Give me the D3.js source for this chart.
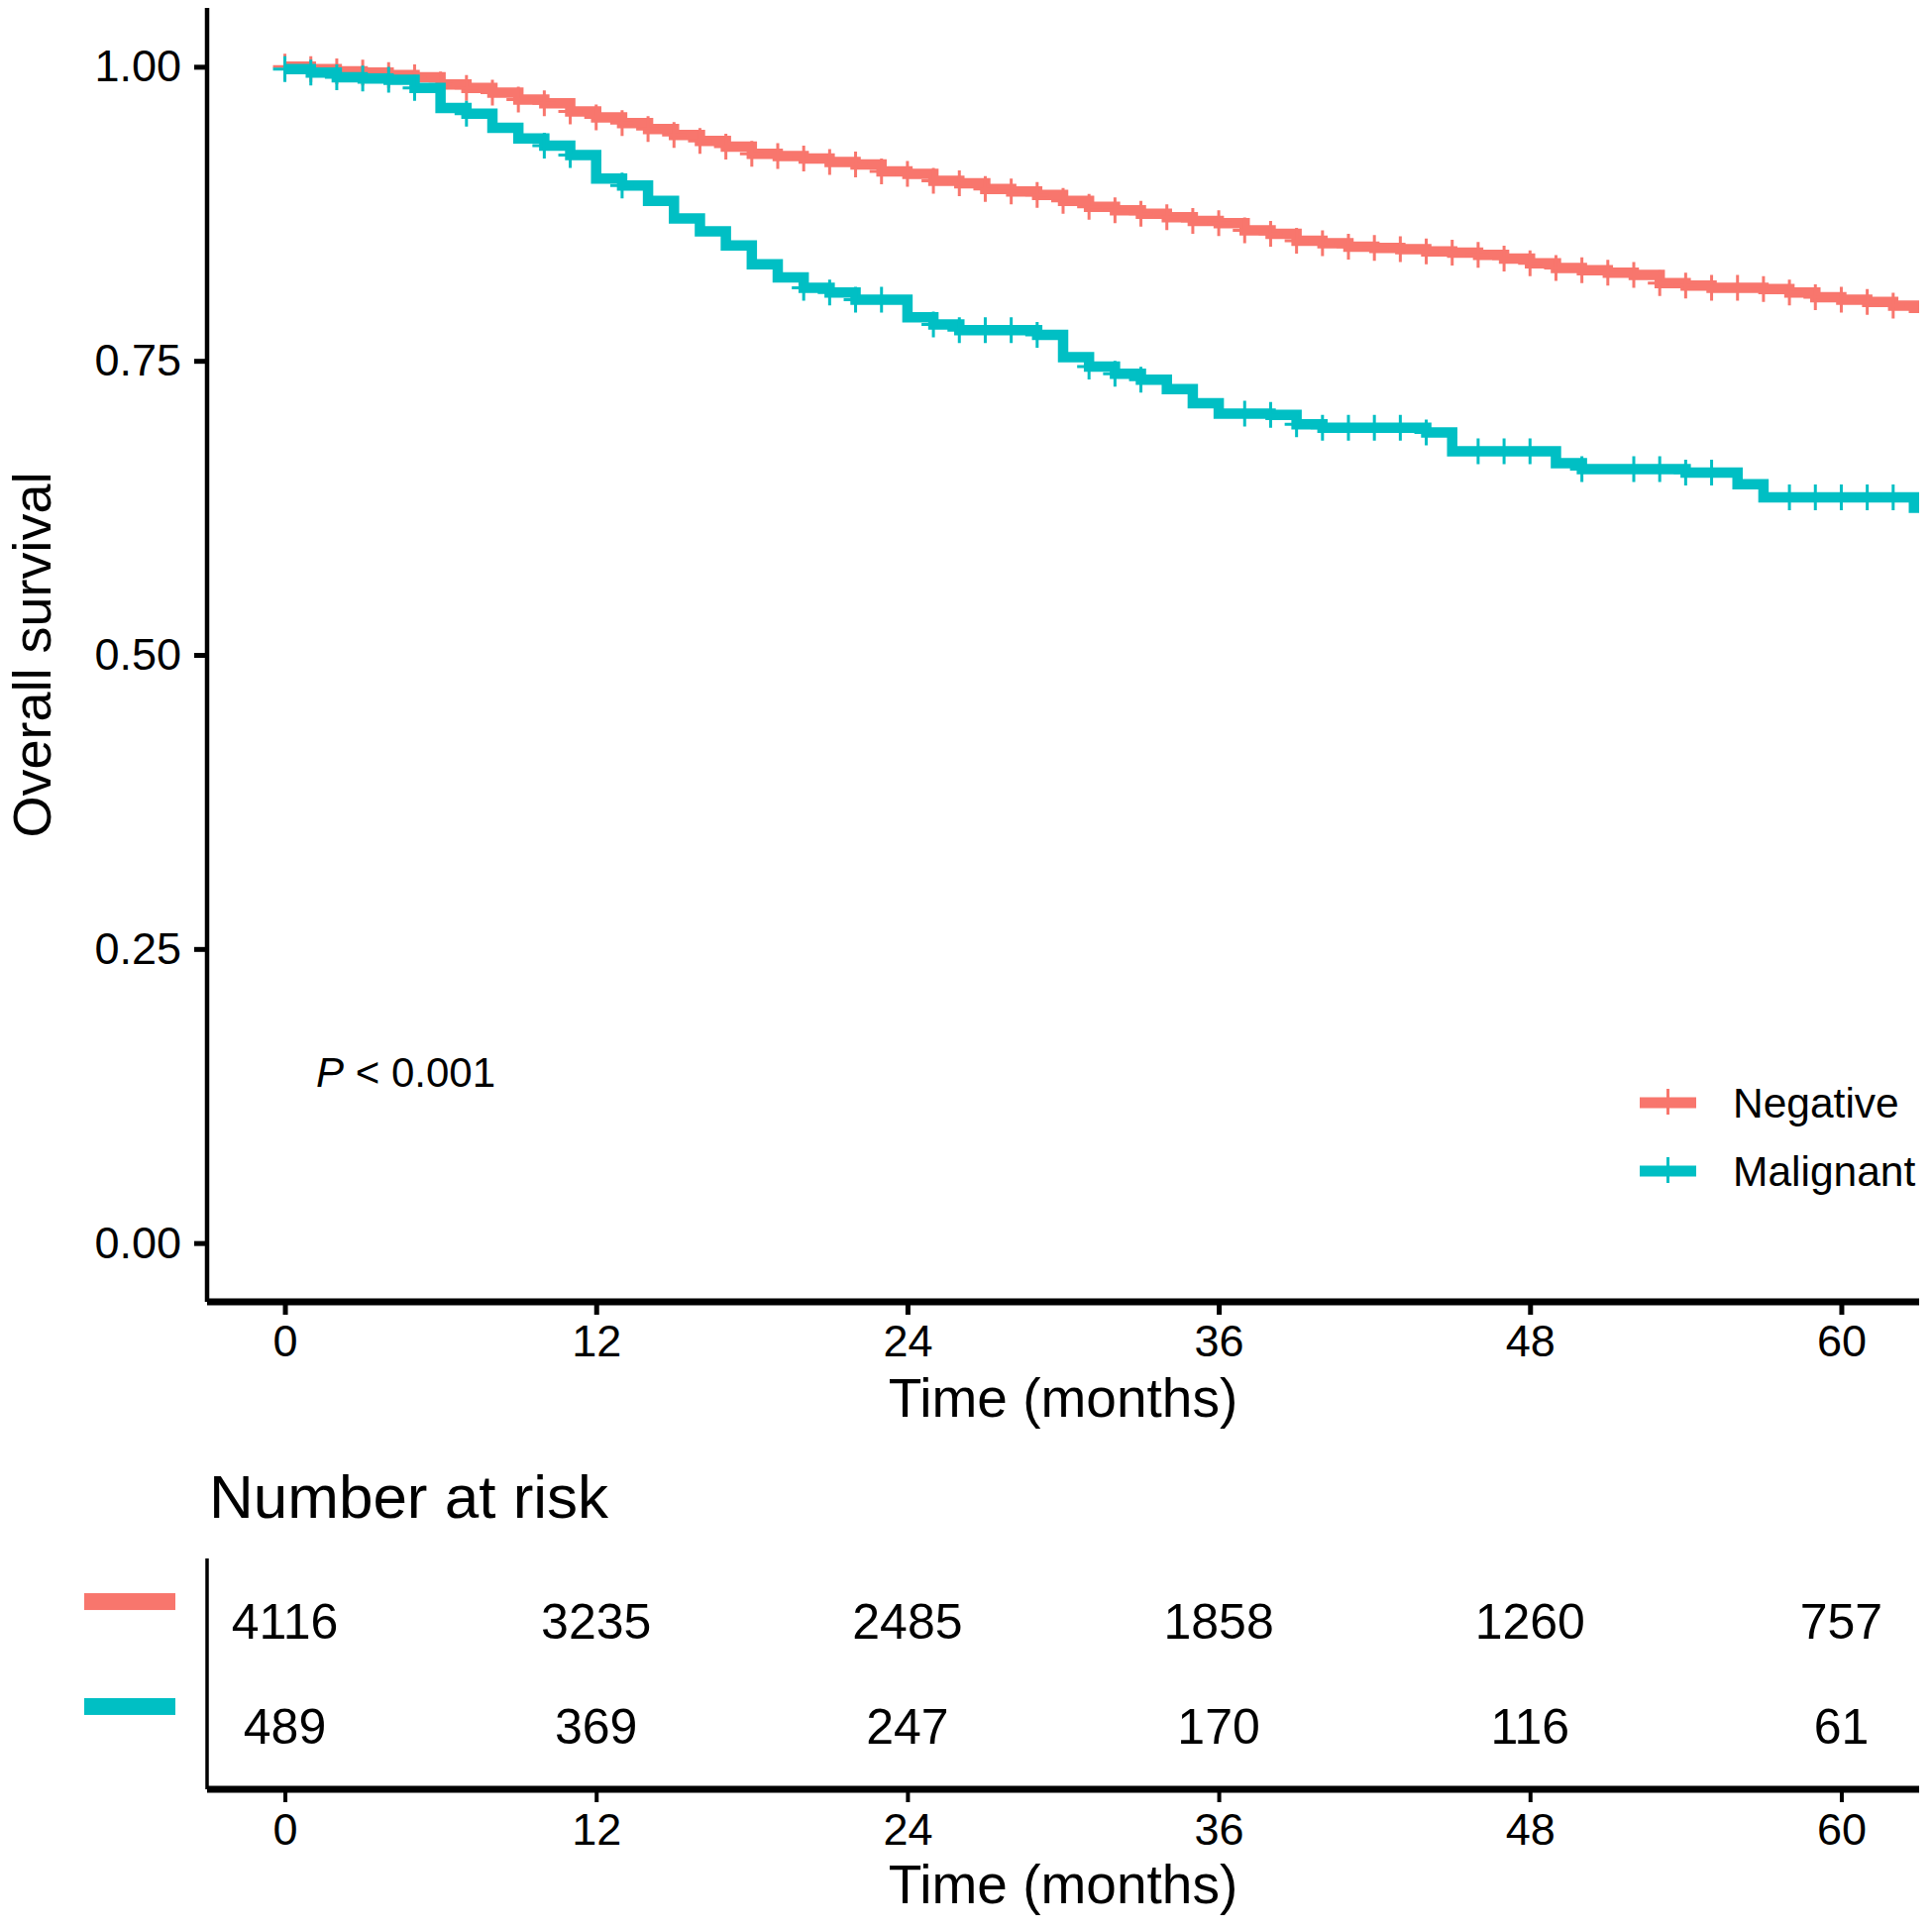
<!DOCTYPE html>
<html>
<head>
<meta charset="utf-8">
<script src="https://cdn.jsdelivr.net/npm/d3@7"></script>
<style>
  html, body { margin: 0; padding: 0; background: #fff; }
  svg { display: block; }
  text { font-family: "Liberation Sans", Arial, Helvetica, sans-serif; fill: #000; }
</style>
</head>
<body>
<svg id="chart" width="1950" height="1946"></svg>
<script>
// ---------------- data ----------------
const groups = ["Negative", "Malignant"];
const groupColors = ["#F8766D", "#00BFC4"];

const months = [0,1,2,3,4,5,6,7,8,9,10,11,12,13,14,15,16,17,18,19,20,21,22,23,24,25,26,27,28,29,30,31,
  32,33,34,35,36,37,38,39,40,41,42,43,44,45,46,47,48,49,50,51,52,53,54,55,56,57,58,59,60,61,62,62.8];

const survNegative = [1.000,0.998,0.996,0.995,0.993,0.991,0.985,0.982,0.978,0.972,0.969,0.962,0.957,0.952,0.947,0.942,
  0.937,0.932,0.926,0.924,0.922,0.919,0.917,0.911,0.909,0.903,0.901,0.896,0.894,0.891,0.886,0.881,
  0.878,0.875,0.872,0.869,0.867,0.861,0.858,0.852,0.850,0.847,0.846,0.845,0.843,0.842,0.840,0.837,
  0.833,0.829,0.827,0.825,0.823,0.816,0.814,0.812,0.812,0.811,0.808,0.804,0.802,0.800,0.797,0.795];

const survMalignant = [0.998,0.995,0.991,0.990,0.989,0.982,0.965,0.960,0.948,0.939,0.933,0.925,0.905,0.899,0.886,0.871,
  0.860,0.848,0.832,0.821,0.812,0.808,0.802,0.802,0.787,0.781,0.776,0.776,0.776,0.772,0.753,0.745,
  0.739,0.734,0.726,0.714,0.705,0.705,0.704,0.696,0.693,0.693,0.693,0.693,0.689,0.673,0.673,0.673,
  0.673,0.663,0.658,0.658,0.658,0.658,0.655,0.655,0.645,0.634,0.634,0.634,0.634,0.634,0.634,0.625];

const censorNegative = [0,1,2,3,4,5,6,7,8,9,10,11,12,13,14,15,16,17,18,19,20,21,22,23,24,25,26,27,28,29,30,31,
  32,33,34,35,36,37,38,39,40,41,42,43,44,45,46,47,48,49,50,51,52,53,54,55,56,57,58,59,60,61,62];
const censorMalignant = [0,1,2,3,4,5,7,10,11,13,20,21,22,23,25,26,27,28,29,31,32,33,37,38,39,40,41,42,43,44,
  46,47,48,50,52,53,54,55,58,59,60,61,62];

const xTicks = [0, 12, 24, 36, 48, 60];
const yTicks = [0, 0.25, 0.5, 0.75, 1.0];
const riskNegative = [4116, 3235, 2485, 1858, 1260, 757];
const riskMalignant = [489, 369, 247, 170, 116, 61];

const pText = "< 0.001";

// ---------------- layout ----------------
const svg = d3.select("#chart");
const plot = { left: 209, right: 1937, top: 8, bottom: 1314 };
const table = { top: 1573, bottom: 1806 };

const x = d3.scaleLinear().domain([-3, 63]).range([plot.left, plot.right]);
const y = d3.scaleLinear().domain([-0.05, 1.05]).range([plot.bottom, plot.top]);
const yRisk = d3.scalePoint().domain(groups).range([table.top, table.bottom]).padding(0.6);

svg.append("defs").append("clipPath").attr("id", "plotclip")
  .append("rect").attr("x", plot.left).attr("y", plot.top)
  .attr("width", plot.right - plot.left).attr("height", plot.bottom - plot.top);

// ---------------- curves ----------------
const series = [
  { name: groups[0], color: groupColors[0], surv: survNegative, censor: censorNegative },
  { name: groups[1], color: groupColors[1], surv: survMalignant, censor: censorMalignant }
];

const line = d3.line().curve(d3.curveStepAfter).x(d => x(d[0])).y(d => y(d[1]));
const gCurves = svg.append("g").attr("clip-path", "url(#plotclip)");

series.forEach(s => {
  const pts = months.map((m, i) => [m, s.surv[i]]);
  pts.push([x.domain()[1] + 1, s.surv[s.surv.length - 1]]);
  gCurves.append("path").datum(pts)
    .attr("d", line)
    .attr("fill", "none")
    .attr("stroke", s.color)
    .attr("stroke-width", 10.5)
    .attr("stroke-linejoin", "miter")
    .attr("stroke-linecap", "butt");
  const cpts = s.censor.map(m => [m, s.surv[months.indexOf(m)]]);
  gCurves.append("g").selectAll("path").data(cpts).join("path")
    .attr("d", d => {
      const cx = x(d[0]), cy = y(d[1]);
      return `M${cx - 12},${cy}H${cx + 12}M${cx},${cy - 13}V${cy + 13}`;
    })
    .attr("fill", "none")
    .attr("stroke", s.color)
    .attr("stroke-width", 3);
});

// ---------------- axes (main) ----------------
const yAxis = svg.append("g").attr("transform", `translate(${plot.left},0)`)
  .call(d3.axisLeft(y).tickValues(yTicks).tickFormat(d3.format(".2f")).tickSize(13).tickPadding(13));
const xAxis = svg.append("g").attr("transform", `translate(0,${plot.bottom})`)
  .call(d3.axisBottom(x).tickValues(xTicks).tickFormat(d3.format("d")).tickSize(13).tickPadding(10));

function styleAxis(g, domainWidth, tickWidth, fontSize) {
  g.select(".domain").attr("stroke", "#000").attr("stroke-width", domainWidth);
  g.selectAll(".tick line").attr("stroke", "#000").attr("stroke-width", tickWidth);
  g.selectAll(".tick text").attr("font-size", fontSize)
    .attr("font-family", '"Liberation Sans", Arial, sans-serif').attr("fill", "#000");
}
styleAxis(yAxis, 4.5, 5, 45);
styleAxis(xAxis, 7, 5, 45);
yAxis.select(".domain").attr("d", `M0,${plot.top}V${plot.bottom}`);
xAxis.select(".domain").attr("d", `M${plot.left},0H${plot.right}`);
xAxis.selectAll(".tick text").attr("dy", null).attr("dominant-baseline", "alphabetic")
  .attr("y", 1369 - plot.bottom);

svg.append("text")
  .attr("transform", `translate(51,${(plot.top + plot.bottom) / 2}) rotate(-90)`)
  .attr("text-anchor", "middle").attr("font-size", 54)
  .text("Overall survival");
svg.append("text")
  .attr("x", (plot.left + plot.right) / 2).attr("y", 1430)
  .attr("text-anchor", "middle").attr("font-size", 55)
  .text("Time (months)");

const pt = svg.append("text").attr("x", 319).attr("y", 1097).attr("font-size", 42);
pt.append("tspan").attr("font-style", "italic").text("P");
pt.append("tspan").text(" " + pText);

// ---------------- legend ----------------
const legend = svg.append("g");
const legendY = [1113, 1182];
series.forEach((s, i) => {
  const ly = legendY[i];
  legend.append("line").attr("x1", 1655).attr("x2", 1712).attr("y1", ly).attr("y2", ly)
    .attr("stroke", s.color).attr("stroke-width", 11);
  legend.append("path")
    .attr("d", `M${1683.5 - 12},${ly}H${1683.5 + 12}M1683.5,${ly - 14}V${ly + 12}`)
    .attr("stroke", s.color).attr("stroke-width", 3).attr("fill", "none");
  legend.append("text").attr("x", 1749).attr("y", ly + 15)
    .attr("font-size", 42.5).text(s.name);
});

// ---------------- number at risk table ----------------
svg.append("text").attr("x", 211).attr("y", 1532).attr("font-size", 62).text("Number at risk");

svg.append("line").attr("x1", plot.left).attr("x2", plot.left)
  .attr("y1", table.top).attr("y2", table.bottom)
  .attr("stroke", "#000").attr("stroke-width", 3.5);

const tX = svg.append("g").attr("transform", `translate(0,${table.bottom})`)
  .call(d3.axisBottom(x).tickValues(xTicks).tickFormat(d3.format("d")).tickSize(13).tickPadding(10));
styleAxis(tX, 7, 4, 45);
tX.select(".domain").attr("d", `M${plot.left},0H${plot.right}`);
tX.selectAll(".tick text").attr("dy", null).attr("dominant-baseline", "alphabetic")
  .attr("y", 1862 - table.bottom);

const riskData = [riskNegative, riskMalignant];
series.forEach((s, i) => {
  const ry = yRisk(s.name);
  svg.append("g").selectAll("text").data(riskData[i].map((v, j) => [xTicks[j], v])).join("text")
    .attr("x", d => x(d[0]))
    .attr("y", ry + 17.5)
    .attr("text-anchor", "middle")
    .attr("font-size", 50)
    .text(d => d[1]);
  svg.append("rect")
    .attr("x", 85).attr("width", 92)
    .attr("y", ry - 20 - 8.5).attr("height", 17)
    .attr("fill", s.color);
});

svg.append("text")
  .attr("x", (plot.left + plot.right) / 2).attr("y", 1921)
  .attr("text-anchor", "middle").attr("font-size", 55)
  .text("Time (months)");
</script>
</body>
</html>
